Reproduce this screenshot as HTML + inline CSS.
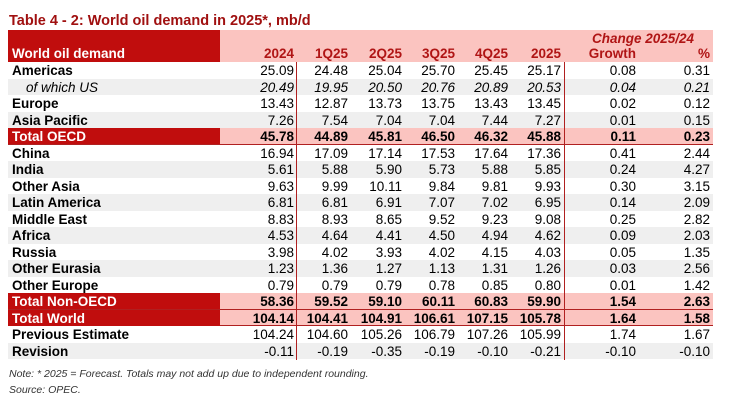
<!DOCTYPE html>
<html><head><meta charset="utf-8"><style>
body{margin:0;width:729px;height:400px;background:#fff;font-family:"Liberation Sans",Arial,sans-serif;position:relative;overflow:hidden}
.title{position:absolute;left:9px;top:13px;font-size:14.5px;font-weight:bold;color:#a01010}
.hdr{position:absolute;left:8px;top:30px;width:705px;height:32px;background:#fbc4c0}
.hdr .lab{position:absolute;left:0;top:0;width:212px;height:32px;background:#c00d0d;color:#fff;font-weight:bold;font-size:13.5px}
.hdr span{position:absolute;color:#b01515;font-weight:bold;font-size:13.5px;text-align:right}
.row{position:absolute;left:8px;width:705px;height:16.5px;font-size:13.5px;line-height:16.5px}
.row span{position:absolute;text-align:right;top:1px}
.row .l{left:4px;text-align:left;font-weight:bold}
.g{background:#efefef}
.t{background:#fbc4c0;font-weight:bold;border-bottom:1px solid #b02020;box-sizing:border-box}
.t .l{left:0;top:0;width:208px;padding-left:4px;background:#c00d0d;color:#fff;height:16px;line-height:17px}
.i{font-style:italic}
.i .l{font-weight:normal;left:18px}
.vl{position:absolute;top:62px;height:298px;width:1px;background:#b02020}
.note{position:absolute;left:9px;font-size:10.5px;font-style:italic;color:#333}
</style></head><body>
<div class="title">Table 4 - 2: World oil demand in 2025*, mb/d</div>
<div class="hdr"><div class="lab"><span style="left:4px;top:16px;color:#fff">World oil demand</span></div>
<span style="right:419px;top:16px">2024</span>
<span style="right:365px;top:16px">1Q25</span>
<span style="right:311px;top:16px">2Q25</span>
<span style="right:258px;top:16px">3Q25</span>
<span style="right:205px;top:16px">4Q25</span>
<span style="right:152px;top:16px">2025</span>
<span style="left:584px;top:1px;font-style:italic;text-align:left">Change 2025/24</span>
<span style="right:77px;top:16px">Growth</span>
<span style="right:3px;top:16px">%</span>
</div>
<div id="rows"></div>
<div class="vl" style="left:296px"></div>
<div class="vl" style="left:564px"></div>
<div class="note" style="top:368px">Note: * 2025 = Forecast. Totals may not add up due to independent rounding.</div>
<div class="note" style="top:384px">Source: OPEC.</div>
<script>
var d=[
["Americas","25.09","24.48","25.04","25.70","25.45","25.17","0.08","0.31",""],
["of which US","20.49","19.95","20.50","20.76","20.89","20.53","0.04","0.21","g i"],
["Europe","13.43","12.87","13.73","13.75","13.43","13.45","0.02","0.12",""],
["Asia Pacific","7.26","7.54","7.04","7.04","7.44","7.27","0.01","0.15","g"],
["Total OECD","45.78","44.89","45.81","46.50","46.32","45.88","0.11","0.23","t"],
["China","16.94","17.09","17.14","17.53","17.64","17.36","0.41","2.44",""],
["India","5.61","5.88","5.90","5.73","5.88","5.85","0.24","4.27","g"],
["Other Asia","9.63","9.99","10.11","9.84","9.81","9.93","0.30","3.15",""],
["Latin America","6.81","6.81","6.91","7.07","7.02","6.95","0.14","2.09","g"],
["Middle East","8.83","8.93","8.65","9.52","9.23","9.08","0.25","2.82",""],
["Africa","4.53","4.64","4.41","4.50","4.94","4.62","0.09","2.03","g"],
["Russia","3.98","4.02","3.93","4.02","4.15","4.03","0.05","1.35",""],
["Other Eurasia","1.23","1.36","1.27","1.13","1.31","1.26","0.03","2.56","g"],
["Other Europe","0.79","0.79","0.79","0.78","0.85","0.80","0.01","1.42",""],
["Total Non-OECD","58.36","59.52","59.10","60.11","60.83","59.90","1.54","2.63","t"],
["Total World","104.14","104.41","104.91","106.61","107.15","105.78","1.64","1.58","t"],
["Previous Estimate","104.24","104.60","105.26","106.79","107.26","105.99","1.74","1.67",""],
["Revision","-0.11","-0.19","-0.35","-0.19","-0.10","-0.21","-0.10","-0.10","g"]];
var rr=[419,365,311,258,205,152,77,3],h="";
d.forEach(function(r,i){h+='<div class="row '+r[9]+'" style="top:'+(62+i*16.5)+'px"><span class="l">'+r[0]+'</span>';
for(var j=1;j<9;j++)h+='<span style="right:'+rr[j-1]+'px">'+r[j]+'</span>';h+='</div>';});
document.getElementById("rows").innerHTML=h;
</script>
</body></html>
